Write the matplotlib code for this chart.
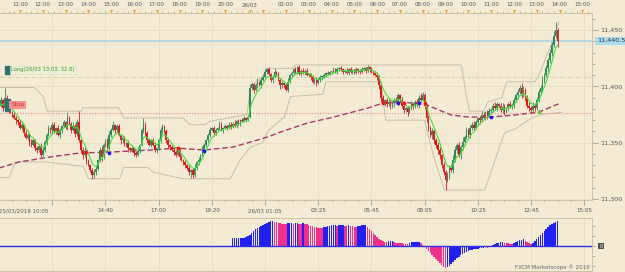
import numpy as np
import pandas as pd
import matplotlib
matplotlib.use('Agg')
import matplotlib.pyplot as plt
from matplotlib.patches import Rectangle
from matplotlib.transforms import blended_transform_factory

# Velas de 5 minutos, indice 0 = 25/03/2019 10:05 (cierre de cada vela)
first_open = 11380
closes = [
    11383, 11388, 11381, 11390, 11385, 11379, 11377, 11375, 11372, 11370,
    11368, 11363, 11366, 11359, 11354, 11357, 11350, 11348, 11352, 11345,
    11344, 11347, 11339, 11344, 11351, 11357, 11363, 11361, 11366, 11360,
    11363, 11357, 11361, 11365, 11368, 11364, 11372, 11367, 11361, 11365,
    11358, 11368, 11352, 11344, 11339, 11343, 11334, 11330, 11326, 11321,
    11324, 11327, 11335, 11344, 11337, 11348, 11352, 11345, 11357, 11361,
    11366, 11361, 11365, 11357, 11352, 11354, 11348, 11350, 11345, 11344,
    11345, 11341, 11339, 11343, 11348, 11361, 11366, 11359, 11352, 11348,
    11352, 11348, 11344, 11345, 11352, 11361, 11365, 11360, 11352, 11348,
    11346, 11344, 11342, 11339, 11344, 11337, 11335, 11333, 11330, 11328,
    11324, 11326, 11321, 11328, 11333, 11335, 11339, 11344, 11348, 11352,
    11357, 11361, 11363, 11359, 11361, 11363, 11366, 11361, 11363, 11365,
    11363, 11366, 11364, 11367, 11365, 11369, 11367, 11370, 11369, 11372, 11370, 11373,
    11399, 11402, 11397, 11401, 11404, 11401, 11406, 11408,
    11413, 11415, 11411, 11406, 11408, 11413, 11411, 11406, 11401, 11403,
    11401, 11397, 11404, 11410, 11412, 11415, 11413, 11417, 11411, 11414,
    11412, 11414, 11410, 11411, 11408, 11404, 11406, 11403, 11406, 11408,
    11408, 11410, 11412, 11411, 11413, 11413, 11415, 11413, 11415, 11416,
    11415, 11413, 11414, 11412, 11415, 11413, 11414, 11412, 11415, 11414,
    11413, 11415, 11416, 11414, 11417, 11415, 11413, 11412, 11410, 11408,
    11401, 11390, 11386, 11388, 11384, 11386, 11383, 11385, 11388, 11386,
    11392, 11388, 11383, 11379, 11381, 11377, 11381, 11384, 11383, 11386,
    11384, 11390, 11388, 11392, 11383, 11372, 11363, 11357, 11360, 11352,
    11348, 11344, 11339, 11330, 11324, 11317, 11321, 11328, 11326, 11335,
    11344, 11348, 11339, 11346, 11351, 11355, 11361, 11357, 11363, 11366,
    11363, 11368, 11372, 11370, 11375, 11372, 11377, 11374, 11378, 11379,
    11383, 11381, 11384, 11383, 11379, 11382, 11377, 11381, 11384, 11383,
    11383, 11388, 11392, 11395, 11399, 11393, 11397, 11390, 11383, 11381,
    11379, 11383, 11381, 11388, 11395, 11399, 11406, 11410, 11416, 11423,
    11430, 11437, 11445, 11450, 11440.5,
]

# Mechas (puntos por encima / por debajo del cuerpo)
wick_hi = [
    2, 3, 1, 9, 2, 1, 2, 1, 3, 2,
    1, 2, 3, 1, 2, 2, 1, 3, 2, 1,
    2, 1, 3, 2, 1, 2, 3, 1, 2, 2,
    1, 3, 2, 1, 2, 1, 5, 2, 1, 3,
    2, 3, 10, 1, 2, 3, 1, 2, 1, 2,
    3, 2, 1, 2, 3, 2, 1, 2, 3, 2,
    3, 1, 2, 2, 1, 3, 2, 1, 2, 1,
    2, 1, 2, 3, 1, 2, 6, 2, 1, 2,
    1, 2, 3, 1, 2, 3, 2, 1, 2, 2,
    1, 2, 1, 2, 3, 1, 2, 1, 2, 1,
    2, 1, 2, 3, 1, 2, 1, 3, 2, 1,
    2, 3, 1, 2, 2, 1, 3, 2, 1, 2,
    1, 2, 2, 1, 3, 1, 2, 1, 2, 2, 1, 2,
    3, 2, 1, 2, 3, 1, 2, 3,
    2, 1, 2, 1, 2, 3, 1, 2, 1, 2,
    1, 2, 3, 1, 2, 1, 2, 1, 2, 1,
    2, 1, 2, 1, 1, 2, 1, 2, 1, 2,
    1, 2, 1, 2, 1, 1, 2, 1, 2, 1,
    2, 1, 1, 2, 1, 2, 1, 1, 2, 1,
    1, 2, 1, 1, 2, 1, 2, 1, 2, 3,
    2, 3, 2, 1, 2, 3, 2, 1, 2, 3,
    2, 1, 3, 2, 1, 2, 2, 3, 1, 2,
    3, 2, 4, 3, 2, 1, 3, 2, 3, 2,
    2, 3, 2, 1, 3, 2, 3, 2, 3, 4,
    3, 2, 3, 2, 4, 2, 3, 2, 3, 2,
    3, 2, 1, 2, 3, 2, 1, 2, 3, 2,
    2, 3, 2, 1, 2, 3, 2, 1, 2, 3,
    2, 3, 2, 3, 2, 4, 3, 2, 2, 3,
    2, 3, 2, 3, 3, 2, 3, 2, 3, 2,
    3, 2, 4, 7, 2,
]
wick_lo = [
    2, 1, 3, 2, 2, 3, 1, 2, 1, 3,
    2, 1, 2, 3, 1, 2, 3, 2, 1, 2,
    3, 2, 2, 1, 2, 3, 1, 2, 3, 1,
    2, 1, 3, 2, 1, 2, 3, 1, 2, 1,
    3, 2, 1, 2, 3, 2, 3, 1, 2, 3,
    2, 3, 1, 2, 3, 1, 2, 3, 1, 2,
    1, 3, 2, 1, 3, 2, 1, 2, 3, 2,
    2, 3, 2, 1, 2, 1, 2, 3, 2, 1,
    2, 1, 2, 3, 1, 2, 3, 1, 2, 3,
    2, 1, 3, 2, 1, 2, 1, 3, 2, 2,
    3, 5, 2, 1, 2, 3, 1, 2, 1, 2,
    1, 2, 1, 3, 2, 1, 2, 1, 2, 1,
    2, 1, 2, 1, 1, 2, 1, 2, 1, 1, 2, 1,
    1, 2, 3, 1, 2, 1, 2, 1,
    1, 2, 1, 2, 3, 1, 2, 1, 3, 2,
    2, 1, 2, 1, 2, 1, 1, 2, 1, 2,
    1, 2, 1, 2, 2, 1, 2, 3, 1, 2,
    2, 1, 2, 1, 1, 2, 1, 1, 2, 1,
    1, 2, 1, 1, 2, 1, 2, 1, 1, 2,
    2, 1, 1, 2, 1, 2, 1, 2, 1, 2,
    3, 4, 2, 3, 2, 1, 3, 2, 3, 2,
    3, 2, 2, 3, 2, 3, 1, 2, 3, 2,
    2, 3, 2, 1, 3, 4, 3, 2, 4, 3,
    3, 4, 3, 2, 3, 9, 2, 3, 2, 3,
    2, 3, 2, 3, 2, 3, 2, 2, 3, 2,
    2, 1, 2, 3, 2, 1, 2, 3, 1, 2,
    2, 2, 3, 1, 2, 3, 2, 1, 3, 2,
    3, 2, 2, 3, 2, 3, 2, 3, 2, 3,
    3, 2, 3, 2, 2, 3, 2, 3, 2, 3,
    2, 3, 2, 2, 6,
]
assert len(closes) == len(wick_hi) == len(wick_lo)

# Media larga (linea granate discontinua)
ma_idx = [0, 10.6, 26.5, 42.3, 58.2, 79.4, 93.7, 107.9, 123.3, 132.3, 141.3,
          149.7, 162.4, 176.2, 194.2, 202.1, 211.6, 223.8, 238.1, 247.1, 258.7,
          271.4, 284.1, 294.5]
ma_val = [11327.6, 11332.9, 11337.3, 11340.9, 11341.7, 11343.5, 11345.3, 11343.5,
          11346.2, 11350.6, 11355.1, 11360.4, 11367.5, 11372.8, 11380.8, 11385.2,
          11386.1, 11384.3, 11374.6, 11372.8, 11372.8, 11374.6, 11377.2, 11384.5]

# Canal superior / inferior (lineas grises)
upper_idx = [0, 18.5, 23.3, 25.4, 43.5, 44, 63, 65.6, 96.8, 100.5, 108.5, 111,
             130.5, 132.3, 135.4, 138.6, 140.7, 154.5, 156, 243.4, 246, 247.6,
             255, 257.2, 264.6, 267.2, 282, 284.7, 288.4, 291.5, 294.7]
upper_val = [11399, 11399, 11391, 11378, 11378, 11381, 11381, 11372, 11372, 11366,
             11366, 11369, 11375, 11399, 11404, 11408, 11416, 11416, 11419, 11419,
             11391, 11378, 11378, 11386, 11390, 11404, 11404, 11412, 11428, 11441,
             11457]
lower_idx = [0, 5.3, 8.5, 24.3, 44.4, 47, 63.5, 65.6, 78.3, 81, 96.8, 121.7,
             127, 132.3, 138.6, 141.8, 150.3, 153.4, 170.4, 172, 201, 203.5,
             223.8, 229.1, 234.4, 255.6, 259.3, 266.1, 271.4, 280.4, 285.7, 296.3]
lower_val = [11319, 11319, 11333, 11333, 11329, 11318, 11318, 11328, 11328, 11324,
             11318, 11318, 11335, 11346, 11350, 11361, 11373, 11391, 11393, 11404,
             11404, 11370, 11370, 11336, 11308, 11308, 11326, 11359, 11362, 11372,
             11375, 11377]

# Senales de cruce sobre la media
red_dot_idx = [46, 94, 202, 213, 224]
red_dot_val = [11342, 11345, 11385, 11385, 11385]
blue_dot_idx = [58, 108, 210, 221, 259]
blue_dot_val = [11341, 11343, 11385, 11385, 11373]
arrow_idx, arrow_val = 284, 11378

last_price = 11440.5
entry_price = 11408
stop_price = 11376.5

# Oscilador (panel inferior), empieza en la vela 123
osc_start = 123
osc_vals = [
    8, 8, 8, 8, 8, 8, 8, 9, 10,
    11, 13, 15, 17, 18, 19, 20, 21,
    22, 23, 24, 25, 25, 24, 24, 23, 23, 22,
    22, 22, 23, 23, 23, 22, 23, 23, 22, 22,
    23, 22, 22, 21, 20, 20, 19, 19, 18, 18,
    18, 19, 19, 20, 20, 21, 21, 21, 20, 21,
    21, 21, 20, 20, 21, 20, 20, 19, 19, 20,
    20, 21, 21, 21, 19, 17, 15, 13, 11, 9,
    7, 6, 5, 4, 4, 5, 5, 5, 4, 3,
    3, 3, 3, 2, 2, 2, 3, 4, 4, 4,
    4, 4, 3, 1, -1, -3, -5, -7, -9, -11,
    -13, -15, -17, -19, -21, -22, -21, -20, -18, -16,
    -14, -12, -11, -9, -8, -7, -6, -5, -4, -4,
    -3, -3, -3, -2, -2, -2, -1, -2, -1, -1,
    1, 2, 3, 3, 4, 4, 3, 3, 3, 2,
    2, 3, 4, 5, 6, 6, 7, 5, 4, 3,
    2, 3, 5, 7, 9, 11, 13, 15, 17, 19,
    21, 22, 23, 24, 25,
]

price_ticks = [11300, 11350, 11400, 11450]
top_idx = [11, 23, 35, 47, 59, 71, 83, 95, 107, 119, 132, 139, 151, 163, 175,
           187, 199, 211, 223, 235, 247, 259, 271, 283, 295, 307]
top_lbl = ['11:00', '12:00', '13:00', '14:00', '15:00', '16:00', '17:00', '18:00',
           '19:00', '20:00', '26/03', '', '02:00', '03:00', '04:00', '05:00', '06:00',
           '07:00', '08:00', '09:00', '10:00', '11:00', '12:00', '13:00', '14:00', '15:00']
bot_idx = [0, 56, 84, 112, 140, 168, 196, 224, 252, 280, 308]
bot_lbl = ['25/03/2019 10:05', '14:40', '17:00', '19:20', '26/03 01:05', '03:25',
           '05:45', '08:05', '10:25', '12:45', '15:05']

BG = '#f4ebd5'
GRID = '#e8dcc2'
EDGE = '#cdc2a6'
GREEN = '#2e8a5e'
RED = '#e3141c'
BLUE = '#2020f0'
PINK = '#f0308c'
XL = (0.5, 312.1)

fig = plt.figure(figsize=(6.25, 2.72), dpi=100)
fig.patch.set_facecolor(BG)


def caja(x0, y0, x1, y1):
    a = fig.add_axes([x0 / 625, 1 - y1 / 272, (x1 - x0) / 625, (y1 - y0) / 272])
    a.set_facecolor(BG)
    a.set_xlim(*XL)
    return a


ax_top = caja(0, 0, 592, 13)
ax = caja(0, 13, 592, 200)
ax_time = caja(0, 200, 592, 217)
ax_osc = caja(0, 218, 592, 271)

# ---- panel principal ----
n = len(closes)
idx = np.arange(n)
c = np.array(closes, float)
o = np.r_[first_open, c[:-1]]
top = np.maximum(o, c)
bot = np.minimum(o, c)
hi = top + np.array(wick_hi)
lo = bot - np.array(wick_lo)
col = np.where(c >= o, GREEN, RED)

for k in range(1, 12):
    ax.axvline(28 * k, color=GRID, lw=0.6, zorder=0)
for p in price_ticks:
    ax.axhline(p, color=GRID, lw=0.6, zorder=0)

ax.plot(upper_idx, upper_val, color='#c9bea8', lw=0.7, zorder=1)
ax.plot(lower_idx, lower_val, color='#c9bea8', lw=0.7, zorder=1)
ax.axhline(last_price, color='#a8d6e8', lw=1.2, zorder=1)
ax.axhline(entry_price, color='#cdd0a2', lw=0.8, ls=(0, (3, 1.5, 1, 1.5)), zorder=1)
ax.axhline(stop_price, color='#e88a8a', lw=0.8, ls=(0, (1, 1.5)), zorder=1)
ax.plot(ma_idx, ma_val, color='#a23c66', lw=1.0, ls=(0, (4, 2)), zorder=2)

ax.vlines(idx, lo, hi, colors=col, lw=0.6, zorder=3)
ax.bar(idx, np.maximum(top - bot, 0.8), bottom=bot, width=0.8, color=col, lw=0, zorder=3)

ema = pd.Series(closes).ewm(span=6, adjust=False).mean()
ax.plot(idx, ema, color='#3fe03f', lw=0.8, zorder=4)

ax.scatter(red_dot_idx, red_dot_val, s=7, color='#ff1010', zorder=5, lw=0)
ax.scatter(blue_dot_idx, blue_dot_val, s=7, color='#1414ff', zorder=5, lw=0)
ax.scatter([arrow_idx], [arrow_val], s=12, marker='^', color='#6cc020', zorder=5, lw=0)

# etiquetas de la orden
ax.add_patch(Rectangle((3.2, 11411), 2.7, 7.5, color='#2f7070', zorder=6))
ax.text(6.4, 11414.7, 'Long(26/03 13:03, 32.8)', fontsize=3.8, color='#3f9a2a',
        va='center', ha='left', zorder=6,
        bbox=dict(boxstyle='square,pad=0.25', fc='#ecf0d8', ec='#d8e0c0', lw=0.4))
ax.add_patch(Rectangle((3.2, 11378.5), 2.7, 10, color='#2f7070', zorder=6))
ax.text(6.4, 11383.5, 'Stop', fontsize=4.2, color='#c83c3c', va='center', ha='left',
        zorder=6, bbox=dict(boxstyle='square,pad=0.3', fc='#f39090', ec='none'))

ax.set_ylim(11299.2, 11465.1)
ax.yaxis.tick_right()
ax.set_yticks(price_ticks)
ax.set_yticklabels([f'{p:,}' for p in price_ticks])
ax.set_yticks(range(11300, 11470, 10), minor=True)
ax.tick_params(axis='y', which='major', length=4, width=0.5, color='#9a9080',
               labelsize=4.6, labelcolor='#555555', pad=2)
ax.tick_params(axis='y', which='minor', length=2, width=0.5, color='#9a9080')
ax.set_xticks([])
ax.spines['left'].set_visible(False)
for s in ['top', 'right', 'bottom']:
    ax.spines[s].set_color(EDGE)
    ax.spines[s].set_linewidth(0.7)

tr = blended_transform_factory(ax.transAxes, ax.transData)
ax.text(1.008, last_price, '11,440.5', transform=tr, fontsize=4.6, color='#333333',
        va='center', ha='left', clip_on=False,
        bbox=dict(boxstyle='square,pad=0.25', fc='#a9dcf0', ec='none'))

# ---- eje de horas superior ----
ax_top.set_ylim(0, 13)
ax_top.axis('off')
minor_top = list(range(2, 132, 3)) + list(range(133, 312, 3))
ax_top.vlines(minor_top, 0.3, 2.5, color='#a89c88', lw=0.5)
ax_top.scatter(top_idx, [1.6] * len(top_idx), marker='v', s=5, color='#f0a028',
               lw=0, zorder=3)
for i, t in zip(top_idx, top_lbl):
    if t:
        ax_top.text(i, 8.3, t, ha='center', va='center', fontsize=4, color='#555555')

# ---- eje de tiempo inferior ----
ax_time.set_ylim(0, 17)
ax_time.axis('off')
ax_time.vlines([28 * k for k in range(12)], 12, 17, color='#a89c88', lw=0.6)
ax_time.vlines([x for x in range(0, 312, 7) if x % 28], 15, 17, color='#a89c88', lw=0.5)
for i, t in zip(bot_idx, bot_lbl):
    ax_time.text(i, 6, t, ha='left' if i == 0 else 'center', va='center',
                 fontsize=4, color='#555555')

# ---- oscilador: azul si sube, rosa si baja, igual mantiene el color ----
ov = np.array(osc_vals, float)
oi = np.arange(osc_start, osc_start + len(ov))
ocol = []
for j, v in enumerate(ov):
    if j == 0 or v > ov[j - 1]:
        ocol.append(BLUE)
    elif v < ov[j - 1]:
        ocol.append(PINK)
    else:
        ocol.append(ocol[-1])
for k in range(1, 12):
    ax_osc.axvline(28 * k, color=GRID, lw=0.6, zorder=0)
ax_osc.bar(oi, ov, width=0.8, color=ocol, lw=0, zorder=2)
ax_osc.axhline(0, color='#3030e8', lw=1.0, zorder=3)
ax_osc.set_ylim(-25, 28)
ax_osc.set_xticks([])
ax_osc.yaxis.tick_right()
ax_osc.set_yticks([-20, -10, 0, 10, 20])
ax_osc.set_yticklabels([])
ax_osc.tick_params(axis='y', length=2, width=0.5, color='#9a9080')
ax_osc.spines['left'].set_visible(False)
for s in ['top', 'right', 'bottom']:
    ax_osc.spines[s].set_color(EDGE)
    ax_osc.spines[s].set_linewidth(0.7)

fig.text(601 / 625, 1 - 246 / 272, '0', fontsize=3.5, color='white', ha='center',
         va='center', bbox=dict(boxstyle='square,pad=0.2', fc='#505050', ec='none'))
fig.text(590 / 625, 1 - 267 / 272, 'FXCM Marketscope \u00a9 2019', fontsize=4,
         color='#666666', ha='right', va='center')

fig.savefig('out.png', dpi=100, facecolor=BG)
